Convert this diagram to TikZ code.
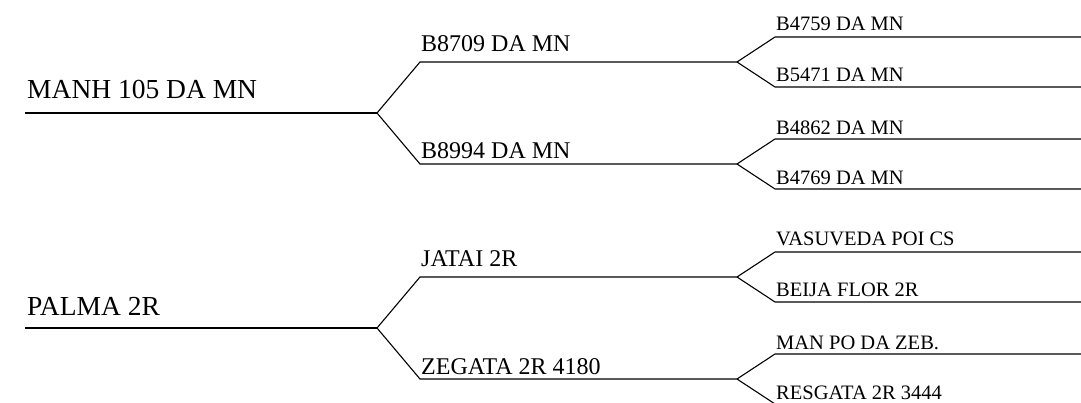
\documentclass[tikz,border=0pt]{standalone}
\usepackage{fontspec}
\setmainfont{Liberation Serif}
\begin{document}
\begin{tikzpicture}[x=1pt,y=-1pt,
  edge/.style={line width=1.1pt, line join=miter},
  gone/.style={anchor=base west, inner sep=0pt, font=\fontsize{27.5}{30}\selectfont},
  gtwo/.style={anchor=base west, inner sep=0pt, font=\fontsize{24}{26}\selectfont},
  gthree/.style={anchor=base west, inner sep=0pt, font=\fontsize{20.5}{22}\selectfont}]
\useasboundingbox (0,0) rectangle (1081,403);
% ---------- top tree ----------
\coordinate (ra) at (25,113);   \coordinate (rab) at (377,113);
\coordinate (pa) at (420,62);   \coordinate (pab) at (737,62);
\coordinate (qa) at (420,164);  \coordinate (qab) at (737,164);
\coordinate (l1) at (775,37);   \coordinate (l1e) at (1081,37);
\coordinate (l2) at (775,87);   \coordinate (l2e) at (1081,87);
\coordinate (l3) at (775,139);  \coordinate (l3e) at (1081,139);
\coordinate (l4) at (775,189);  \coordinate (l4e) at (1081,189);
\draw[edge] (ra) -- (rab);
\draw[edge] (rab) -- (pa) -- (pab);
\draw[edge] (rab) -- (qa) -- (qab);
\draw[edge] (pab) -- (l1) -- (l1e);
\draw[edge] (pab) -- (l2) -- (l2e);
\draw[edge] (qab) -- (l3) -- (l3e);
\draw[edge] (qab) -- (l4) -- (l4e);
\node[gone]   (ta)  at (27,99)  {MANH 105 DA MN};
\node[gtwo]   (tpa) at (421,52) {B8709 DA MN};
\node[gtwo]   (tqa) at (421,159) {B8994 DA MN};
\node[gthree] (t1)  at (776,31) {B4759 DA MN};
\node[gthree] (t2)  at (776,82) {B5471 DA MN};
\node[gthree] (t3)  at (776,135) {B4862 DA MN};
\node[gthree] (t4)  at (776,185) {B4769 DA MN};
% ---------- bottom tree ----------
\coordinate (rb) at (25,328);   \coordinate (rbb) at (377,328);
\coordinate (pb) at (420,277);  \coordinate (pbb) at (737,277);
\coordinate (qb) at (420,379);  \coordinate (qbb) at (737,379);
\coordinate (m1) at (775,252);  \coordinate (m1e) at (1081,252);
\coordinate (m2) at (775,302);  \coordinate (m2e) at (1081,302);
\coordinate (m3) at (775,354);  \coordinate (m3e) at (1081,354);
\coordinate (m4) at (775,404);  \coordinate (m4e) at (1081,404);
\draw[edge] (rb) -- (rbb);
\draw[edge] (rbb) -- (pb) -- (pbb);
\draw[edge] (rbb) -- (qb) -- (qbb);
\draw[edge] (pbb) -- (m1) -- (m1e);
\draw[edge] (pbb) -- (m2) -- (m2e);
\draw[edge] (qbb) -- (m3) -- (m3e);
\draw[edge] (qbb) -- (m4) -- (m4e);
\node[gone]   (tb)  at (27,315) {PALMA 2R};
\node[gtwo]   (tpb) at (421,267) {JATAI 2R};
\node[gtwo]   (tqb) at (421,374) {ZEGATA 2R 4180};
\node[gthree] (s1)  at (776,246) {VASUVEDA POI CS};
\node[gthree] (s2)  at (776,297) {BEIJA FLOR 2R};
\node[gthree] (s3)  at (776,349) {MAN PO DA ZEB.};
\node[gthree] (s4)  at (776,399) {RESGATA 2R 3444};
\end{tikzpicture}
\end{document}
